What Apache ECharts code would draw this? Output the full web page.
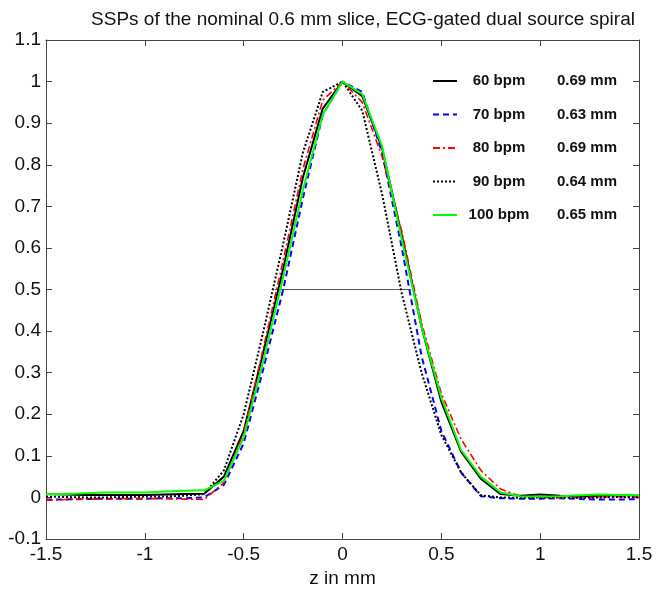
<!DOCTYPE html>
<html>
<head>
<meta charset="utf-8">
<script src="https://cdn.jsdelivr.net/npm/echarts@6/dist/echarts.min.js"></script>
<style>html,body{margin:0;padding:0;background:#fff}#c{width:666px;height:593px}</style>
</head>
<body>
<div id="c"></div>
<script>
// z positions (mm)
var zPos = [-1.5,-1.4,-1.3,-1.2,-1.1,-1.0,-0.9,-0.8,-0.7,-0.6,-0.5,-0.4,-0.3,-0.2,-0.1,0,
            0.1,0.2,0.3,0.4,0.5,0.6,0.7,0.8,0.9,1.0,1.1,1.2,1.3,1.4,1.5];
var bpm60  = [0.008,0.007,0.006,0.006,0.006,0.006,0.007,0.008,0.009,0.05,0.16,0.35,0.55,0.77,0.935,1,
              0.965,0.84,0.63,0.41,0.23,0.11,0.045,0.008,0.004,0.007,0.004,0.002,0.004,0.006,0.005];
var bpm70  = [-0.005,-0.005,-0.004,-0.003,-0.003,-0.003,-0.002,-0.002,0.0,0.03,0.13,0.31,0.50,0.72,0.92,1,
              0.975,0.83,0.60,0.34,0.16,0.06,0.003,-0.002,-0.003,-0.003,-0.002,-0.004,-0.005,-0.005,-0.004];
var bpm80  = [-0.007,-0.005,-0.004,-0.004,-0.003,-0.003,-0.003,-0.004,-0.005,0.035,0.155,0.36,0.57,0.79,0.955,1,
              0.95,0.82,0.64,0.42,0.25,0.14,0.065,0.02,0.002,0.0,-0.001,0.0,0.001,0.002,0.0];
var bpm90  = [0.002,0.001,0.0,0.0,0.001,0.002,0.002,0.004,0.008,0.065,0.2,0.40,0.61,0.83,0.975,1,
              0.93,0.73,0.49,0.30,0.15,0.06,0.005,0.0,-0.001,0.0,0.0,-0.001,0.0,0.001,0.0];
var bpm100 = [0.008,0.008,0.01,0.012,0.012,0.012,0.014,0.016,0.017,0.04,0.145,0.33,0.53,0.74,0.92,1,
              0.97,0.845,0.62,0.41,0.24,0.114,0.05,0.012,0.003,0.002,0.003,0.005,0.007,0.006,0.006];
var seriesNames = ['60 bpm','70 bpm','80 bpm','90 bpm','100 bpm'];
var fwhmLabels = ['0.69 mm','0.63 mm','0.69 mm','0.64 mm','0.65 mm'];
var halfMaxZ = [-0.343, 0.347];
var halfMaxLevel = 0.5;

function pairs(ys){ return zPos.map(function(z,i){ return [z, ys[i]]; }); }
var allData = [bpm60,bpm70,bpm80,bpm90,bpm100];
var colors = ['#000000','#0000ff','#ff0000','#000000','#00ff00'];
var dashes = ['solid',[6,4],[7,3,2,3],[2,2],'solid'];
var widths = [2,2,1.6,2,2];
var fwhmMap = {};
seriesNames.forEach(function(n,i){ fwhmMap[n]=fwhmLabels[i]; });

var font = 'Liberation Sans, Arial, sans-serif';
var series = seriesNames.map(function(n,i){
  return {
    name:n, type:'line', data:pairs(allData[i]), showSymbol:false, symbol:'none',
    xAxisIndex:0, yAxisIndex:0,
    lineStyle:{color:colors[i], width:widths[i], type:dashes[i]},
    itemStyle:{color:colors[i]},
    animation:false, z:2+i
  };
});
series.push({
  name:'fwhm', type:'line', data:halfMaxZ.map(function(z){return [z, halfMaxLevel];}),
  showSymbol:false, symbol:'none', lineStyle:{color:'#555', width:1}, itemStyle:{color:'#555'}, animation:false, z:1
});

var chart = echarts.init(document.getElementById('c'));
chart.setOption({
  backgroundColor:'#fff',
  animation:false,
  title:{ text:'SSPs of the nominal 0.6 mm slice, ECG-gated dual source spiral',
    left:358, textAlign:'center', top:5,
    textStyle:{fontFamily:font, fontSize:19, fontWeight:'normal', color:'#111'} },
  grid:{ left:46, right:27, top:40, bottom:48 },
  legend:{
    show:true,
    data:seriesNames, orient:'vertical', left:427, top:68.5, itemWidth:24, itemHeight:14, itemGap:18.5,
    itemStyle:{opacity:0},
    formatter:function(n){ return '{a|'+n+'}{b|'+fwhmMap[n]+'}'; },
    textStyle:{ fontFamily:font, fontWeight:'bold', fontSize:15, color:'#111',
      rich:{ a:{width:74, align:'right', fontWeight:'bold', fontSize:15, fontFamily:font, color:'#111'},
             b:{fontWeight:'bold', fontSize:15, fontFamily:font, color:'#111', padding:[0,0,0,21]} } }
  },
  xAxis:[
    { type:'value', min:-1.5, max:1.5, interval:0.5, name:'z in mm', nameLocation:'middle', nameGap:30,
      nameTextStyle:{fontFamily:font, fontSize:19, color:'#111'},
      axisLine:{onZero:false, lineStyle:{color:'#444', width:1}}, axisTick:{inside:true, length:6, lineStyle:{color:'#444'}},
      axisLabel:{fontFamily:font, fontSize:19, color:'#111', margin:6}, splitLine:{show:false} },
    { type:'value', min:-1.5, max:1.5, interval:0.5, position:'top',
      axisLine:{onZero:false, lineStyle:{color:'#444', width:1}}, axisTick:{inside:true, length:6, lineStyle:{color:'#444'}},
      axisLabel:{show:false}, splitLine:{show:false} }
  ],
  yAxis:[
    { type:'value', min:-0.1, max:1.1, interval:0.1,
      axisLine:{show:true, onZero:false, lineStyle:{color:'#444', width:1}}, axisTick:{show:true, inside:true, length:6, lineStyle:{color:'#444'}},
      axisLabel:{fontFamily:font, fontSize:19, color:'#111', margin:5,
        formatter:function(v){ return String(Math.round(v*10)/10); } }, splitLine:{show:false} },
    { type:'value', min:-0.1, max:1.1, interval:0.1, position:'right',
      axisLine:{show:true, onZero:false, lineStyle:{color:'#444', width:1}}, axisTick:{show:true, inside:true, length:6, lineStyle:{color:'#444'}},
      axisLabel:{show:false}, splitLine:{show:false} }
  ],
  series:series
});
</script>
</body>
</html>
